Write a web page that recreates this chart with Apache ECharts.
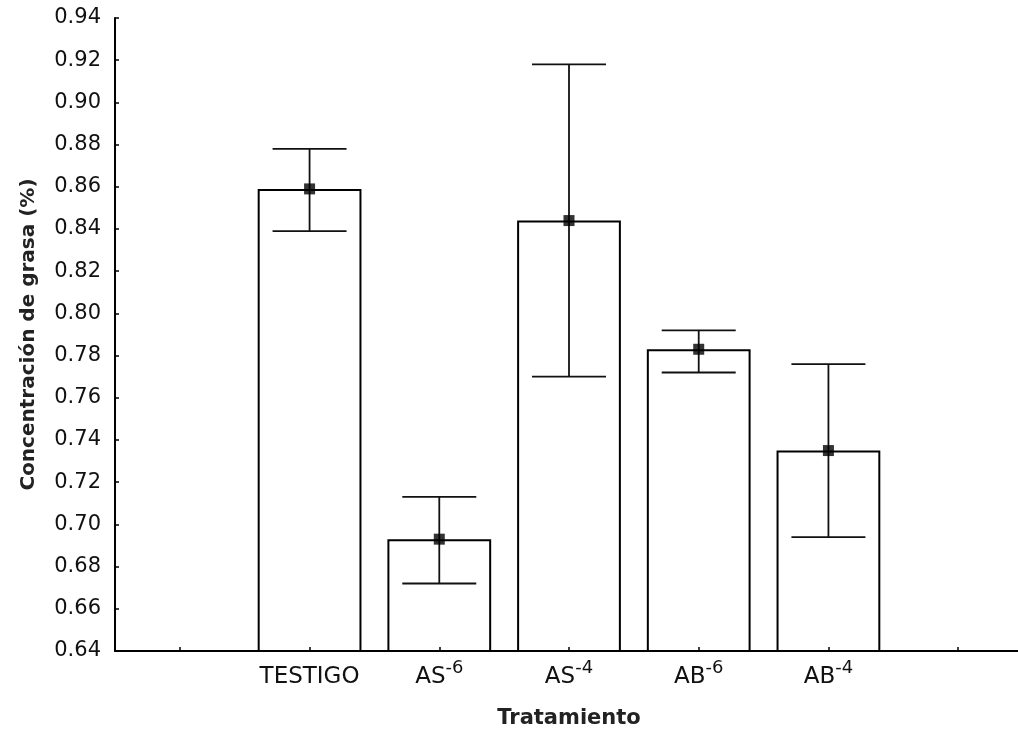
<!DOCTYPE html>
<html>
<head>
<meta charset="utf-8">
<script src="https://cdn.jsdelivr.net/npm/echarts@6/dist/echarts.min.js"></script>
<style>
  html, body { margin: 0; padding: 0; background: #fff; }
  #chart { width: 1018px; height: 734px; }
</style>
</head>
<body>
<div id="chart"></div>
<script>
// empty slots at both ends, like the original plot
const categories = ['', 'TESTIGO', 'AS-6', 'AS-4', 'AB-6', 'AB-4', ''];
const means = [null, 0.859, 0.693, 0.844, 0.783, 0.735, null];
const lower = [null, 0.839, 0.672, 0.770, 0.772, 0.694, null];
const upper = [null, 0.878, 0.713, 0.918, 0.792, 0.776, null];
const yTicks = [0.64, 0.94, 0.02];

const chart = echarts.init(document.getElementById('chart'));

const fontFamily = '"DejaVu Sans", "Liberation Sans", sans-serif';

// "AS-6" -> AS with superscript -6
function catLabel(v) {
  if (!v) return '';
  const m = v.match(/^([A-Z]+)(-\d)$/);
  if (!m) return '{base|' + v + '}';
  return '{base|' + m[1] + '}{sup|' + m[2] + '}';
}

const errData = [];
categories.forEach((c, i) => {
  if (means[i] != null) errData.push([i, lower[i], upper[i]]);
});
const pointData = [];
categories.forEach((c, i) => {
  if (means[i] != null) pointData.push([i, means[i]]);
});

const option = {
  backgroundColor: '#fff',
  animation: false,
  grid: { left: 115, top: 18, width: 908, height: 633, containLabel: false, outerBoundsMode: 'none' },
  xAxis: {
    type: 'category',
    data: categories,
    z: 5,
    name: 'Tratamiento',
    nameLocation: 'middle',
    nameGap: 57,
    nameTextStyle: { fontFamily, fontSize: 21, fontWeight: 'bold', color: '#222' },
    axisLine: { show: true, lineStyle: { color: '#000', width: 2 } },
    axisTick: { show: true, inside: true, alignWithLabel: true, interval: 0, length: 4, lineStyle: { color: '#000', width: 1.5 } },
    axisLabel: {
      interval: 0,
      margin: 2,
      fontFamily, fontSize: 23, color: '#111',
      formatter: catLabel,
      rich: {
        base: { fontFamily, fontSize: 23, color: '#111', verticalAlign: 'bottom', padding: [13, 0, 0, 0] },
        sup: { fontFamily, fontSize: 18, color: '#111', verticalAlign: 'bottom', padding: [0, 0, 12, 0] }
      }
    },
    splitLine: { show: false }
  },
  yAxis: {
    type: 'value',
    min: yTicks[0],
    max: yTicks[1],
    interval: yTicks[2],
    z: 5,
    name: 'Concentración de grasa (%)',
    nameLocation: 'middle',
    nameGap: 76,
    nameTextStyle: { fontFamily, fontSize: 20, fontWeight: 'bold', color: '#222' },
    axisLine: { show: true, lineStyle: { color: '#000', width: 2 } },
    axisTick: { show: true, inside: true, length: 4, lineStyle: { color: '#000', width: 1.5 } },
    axisLabel: {
      margin: 14,
      fontFamily, fontSize: 21, color: '#111',
      formatter: v => v.toFixed(2)
    },
    splitLine: { show: false }
  },
  series: [
    {
      type: 'bar',
      data: means,
      barWidth: '80%',
      itemStyle: { color: '#fff', borderColor: '#000', borderWidth: 2 },
      z: 1
    },
    {
      type: 'custom',
      data: errData,
      renderItem: function (params, api) {
        const x = api.value(0);
        const lo = api.coord([x, api.value(1)]);
        const hi = api.coord([x, api.value(2)]);
        const half = 37;
        const style = { stroke: '#111', lineWidth: 1.8 };
        return {
          type: 'group',
          children: [
            { type: 'line', shape: { x1: lo[0], y1: lo[1], x2: hi[0], y2: hi[1] }, style },
            { type: 'line', shape: { x1: hi[0] - half, y1: hi[1], x2: hi[0] + half, y2: hi[1] }, style },
            { type: 'line', shape: { x1: lo[0] - half, y1: lo[1], x2: lo[0] + half, y2: lo[1] }, style }
          ]
        };
      },
      z: 2
    },
    {
      type: 'scatter',
      data: pointData,
      symbol: 'rect',
      symbolSize: 11,
      itemStyle: { color: '#000' },
      z: 3
    }
  ]
};

chart.setOption(option);
</script>
</body>
</html>
